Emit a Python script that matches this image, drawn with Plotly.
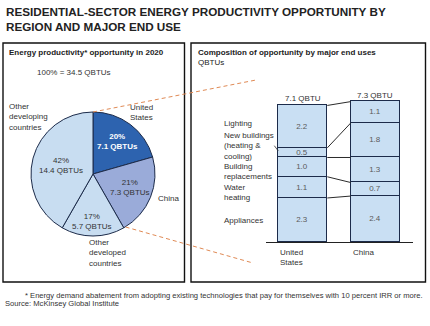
import plotly.graph_objects as go

# ---- data -------------------------------------------------------------
regions = ["United States", "China", "Other developed countries", "Other developing countries"]
region_qbtu = [7.1, 7.3, 5.7, 14.4]
region_pct = [20, 21, 17, 42]
total_qbtu = 34.5

end_uses = ["Appliances", "Water heating", "Building replacements",
            "New buildings (heating & cooling)", "Lighting"]
end_use_labels = ["Appliances", "Water<br>heating", "Building<br>replacements",
                  "New buildings<br>(heating &<br>cooling)", "Lighting"]
bar_countries = ["United<br>States", "China"]
us_values = [2.3, 1.1, 1.0, 0.5, 2.2]
china_values = [2.4, 0.7, 1.3, 1.8, 1.1]

# ---- styling ----------------------------------------------------------
W, H = 430, 326
FONT = "Liberation Sans, Arial, sans-serif"
NAVY = "#1c2b4a"
TXT = "#333333"
slice_colors = ["#2d63af", "#9aabd9", "#c8ddf1", "#c8ddf1"]
BAR_FILL = "#c9dff3"
ORANGE = "#e08a55"


def px(x):
    return x / W


def py(y):
    return 1 - y / H


fig = go.Figure()

# ---- pie: opportunity by region -----------------------------------------
fig.add_trace(go.Pie(
    values=region_qbtu,
    labels=regions,
    sort=False,
    direction="clockwise",
    rotation=0,
    marker=dict(colors=slice_colors, line=dict(color=NAVY, width=1)),
    textinfo="none",
    hoverinfo="label+value",
    showlegend=False,
    domain=dict(x=[px(31), px(155)], y=[py(236), py(112)]),
))

# ---- stacked bars: composition by end use --------------------------------
bar_w = 0.675
for i, name in enumerate(end_uses):
    fig.add_trace(go.Bar(
        x=[0, 1],
        y=[us_values[i], china_values[i]],
        name=name,
        width=bar_w,
        marker=dict(color=BAR_FILL, line=dict(color=NAVY, width=1)),
        texttemplate="%{y:.1f}",
        textposition="inside",
        insidetextanchor="middle",
        textangle=0,
        constraintext="none",
        textfont=dict(family=FONT, size=8, color="#5a5a5a"),
        showlegend=False,
        xaxis="x", yaxis="y",
    ))

fig.update_layout(
    width=W, height=H,
    margin=dict(l=0, r=0, t=0, b=0),
    paper_bgcolor="white", plot_bgcolor="rgba(0,0,0,0)",
    barmode="stack",
    bargap=0,
    font=dict(family=FONT, color=TXT),
    xaxis=dict(domain=[px(266), px(413)], range=[-0.507, 1.518],
               showline=True, linecolor="#222222", linewidth=1,
               showticklabels=False, ticks="", showgrid=False, zeroline=False,
               fixedrange=True),
    yaxis=dict(domain=[py(242.3), py(88.1)], range=[0, 8], visible=False,
               fixedrange=True),
)

shapes = []
annotations = []

# connector lines between matching stack boundaries
cum_us, cum_cn = 0.0, 0.0
for u, c in zip(us_values, china_values):
    cum_us += u
    cum_cn += c
    shapes.append(dict(type="line", xref="x", yref="y",
                       x0=bar_w / 2, y0=cum_us, x1=1 - bar_w / 2, y1=cum_cn,
                       line=dict(color="#2b2b2b", width=1), layer="above"))

# totals above each bar
for i, vals in enumerate([us_values, china_values]):
    tot = round(sum(vals), 1)
    annotations.append(dict(x=i, y=tot, xref="x", yref="y", yanchor="bottom",
                            yshift=0, text=f"{tot:.1f} QBTU", showarrow=False,
                            font=dict(size=8, color=TXT)))

# country labels under bars (left aligned with bar edge)
for i, lab in enumerate(bar_countries):
    annotations.append(dict(x=i - bar_w / 2, y=py(246), xref="x", yref="paper",
                            xanchor="left", yanchor="top", align="left",
                            text=lab, showarrow=False,
                            font=dict(size=8, color=TXT)))

# end-use labels to the left of the bars
end_use_y = [220, 192.5, 172, 145.5, 123]
for lab, yy in zip(end_use_labels, end_use_y):
    annotations.append(dict(x=px(222), y=py(yy), xref="paper", yref="paper",
                            xanchor="left", yanchor="middle", align="left",
                            text=lab, showarrow=False,
                            font=dict(size=8, color=TXT)))
shapes.append(dict(type="line", xref="paper", yref="paper",
                   x0=px(274.3), y0=py(145.7), x1=px(278.3), y1=py(151),
                   line=dict(color="#333333", width=0.8)))

# pie slice labels
inner = [(117, 141.5, "white", True), (129.5, 187.5, TXT, False),
         (92, 222, TXT, False), (61, 165, TXT, False)]
for (xx, yy, col, bold), pct, q in zip(inner, region_pct, region_qbtu):
    txt = f"{pct}%<br>{q:.1f} QBTUs"
    if bold:
        txt = f"<b>{pct}%</b><br><b>{q:.1f} QBTUs</b>"
    annotations.append(dict(x=px(xx), y=py(yy), xref="paper", yref="paper",
                            xanchor="center", yanchor="middle", text=txt,
                            showarrow=False, font=dict(size=8, color=col)))

outer = [(128, 112, "left", "United<br>States"),
         (156, 198, "left", "China"),
         (87, 253, "left", "Other<br>developed<br>countries"),
         (7, 116.5, "left", "Other<br>developing<br>countries")]
for xx, yy, anc, txt in outer:
    annotations.append(dict(x=px(xx), y=py(yy), xref="paper", yref="paper",
                            xanchor=anc, yanchor="middle", align="left",
                            text=txt, showarrow=False,
                            font=dict(size=8, color=TXT)))

# panel boxes
for x0, x1 in [(3, 184.5), (191, 425.5)]:
    shapes.append(dict(type="rect", xref="paper", yref="paper",
                       x0=px(x0), x1=px(x1), y0=py(282), y1=py(43),
                       line=dict(color="#111111", width=1.4), layer="below"))

# dashed guide lines from pie to bar panel
shapes.append(dict(type="line", xref="paper", yref="paper",
                   x0=px(93), y0=py(112), x1=px(256), y1=py(80),
                   line=dict(color=ORANGE, width=1, dash="4px,3px")))
shapes.append(dict(type="line", xref="paper", yref="paper",
                   x0=px(125.6), y0=py(227), x1=px(253), y1=py(263),
                   line=dict(color=ORANGE, width=1, dash="4px,3px")))

# title and panel headers
annotations += [
    dict(x=px(4), y=py(3), xref="paper", yref="paper", xanchor="left",
         yanchor="top", align="left", showarrow=False,
         text="<b>RESIDENTIAL-SECTOR ENERGY PRODUCTIVITY OPPORTUNITY BY<br>"
              "REGION AND MAJOR END USE</b>",
         font=dict(size=11.7, color="#222222")),
    dict(x=px(7), y=py(53), xref="paper", yref="paper", xanchor="left",
         yanchor="middle", showarrow=False,
         text="<b>Energy productivity* opportunity in 2020</b>",
         font=dict(size=8, color="#222222")),
    dict(x=px(74), y=py(72), xref="paper", yref="paper", xanchor="center",
         yanchor="middle", showarrow=False,
         text=f"100% = {total_qbtu} QBTUs",
         font=dict(size=8, color=TXT)),
    dict(x=px(196), y=py(57.5), xref="paper", yref="paper", xanchor="left",
         yanchor="middle", align="left", showarrow=False,
         text="<b>Composition of opportunity by major end uses</b><br>QBTUs",
         font=dict(size=8, color="#222222")),
    dict(x=px(425), y=py(295), xref="paper", yref="paper", xanchor="right",
         yanchor="middle", showarrow=False,
         text="* Energy demand abatement from adopting existing technologies "
              "that pay for themselves with 10 percent IRR or more.",
         font=dict(size=7.6, color=TXT)),
    dict(x=px(3), y=py(303.5), xref="paper", yref="paper", xanchor="left",
         yanchor="middle", showarrow=False,
         text="Source: McKinsey Global Institute",
         font=dict(size=7.6, color=TXT)),
]

fig.update_layout(shapes=shapes, annotations=annotations)

fig.write_html("out.html", config={"displayModeBar": False})
